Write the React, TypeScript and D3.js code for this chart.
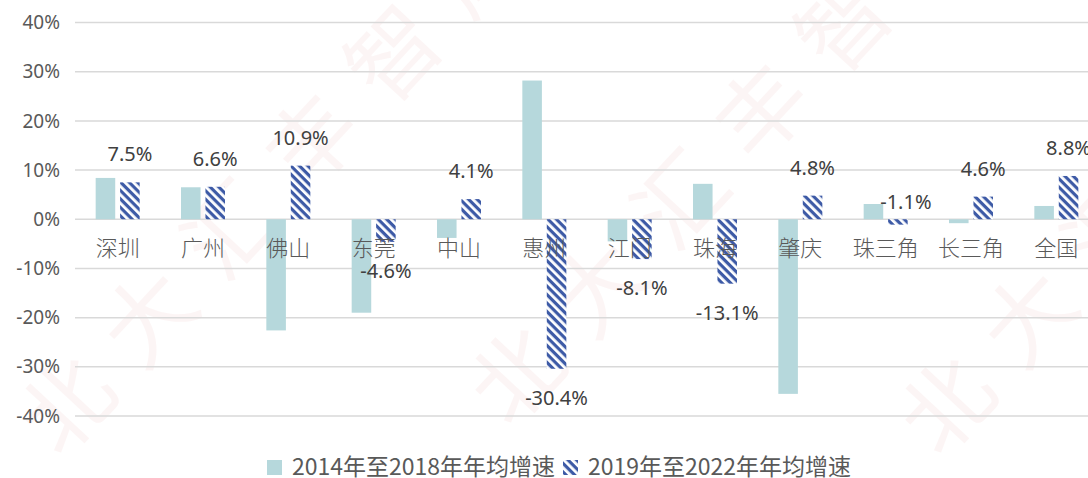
import React from 'react';
import * as d3 from 'd3';

// categories and the two series (annual growth, %)
const cities = ['深圳', '广州', '佛山', '东莞', '中山', '惠州', '江门', '珠海', '肇庆', '珠三角', '长三角', '全国'];
const growth1418 = [8.4, 6.5, -22.6, -19.0, -3.8, 28.2, -4.5, 7.2, -35.5, 3.1, -0.8, 2.7];
const growth1922 = [7.5, 6.6, 10.9, -4.6, 4.1, -30.4, -8.1, -13.1, 4.8, -1.1, 4.6, 8.8];
const seriesNames = ['2014年至2018年年均增速', '2019年至2022年年均增速'];
const yTicks = [-40, -30, -20, -10, 0, 10, 20, 30, 40];
const watermarkLines = ['北大汇丰智库', '北大汇丰智库', '北大汇丰智库'];

const W = 1088, H = 478;
const solidColor = '#b6d8dc';
const hatchColor = '#3d5aa6';
const textColor = '#595959';

export default function App() {
  const x = d3.scaleBand<string>().domain(cities).range([75, 1099]);
  const inner = d3.scaleBand<number>().domain([0, 1]).range([-22, 22]).paddingInner(0.2);
  const y = d3.scaleLinear().domain([-40, 40]).range([416, 22.5]);
  const fmtTick = (d: number) => d + '%';

  const cx = (c: string) => (x(c) as number) + x.bandwidth() / 2;
  const bw = inner.bandwidth();

  const bar = (v: number) => ({ y: y(Math.max(0, v)), h: Math.abs(y(v) - y(0)) });

  return (
    <svg width={W} height={H} style={{ position: 'absolute', left: 0, top: 0, background: '#fff' }}>
      <defs>
        <pattern id="hatch" width="6" height="6" patternUnits="userSpaceOnUse" patternTransform="rotate(45)">
          <rect width="6" height="6" fill="#fff" />
          <rect x="0" y="0" width="6" height="3.2" fill={hatchColor} />
        </pattern>
        <clipPath id="page"><rect width={W} height={H} /></clipPath>
      </defs>

      {/* watermark */}
      <g clipPath="url(#page)" fill="#f3c9c9" opacity={0.18} fontFamily="Noto Sans CJK SC" fontSize={90}>
        {watermarkLines.map((t, i) => (
          <text key={i} transform={`translate(${[60, 510, 940][i]},${[460, 430, 460][i]}) rotate(-47)`} letterSpacing={30}>
            {t}
          </text>
        ))}
      </g>

      {/* grid + y axis */}
      <g>
        {yTicks.map(t => (
          <g key={t}>
            <line x1={75} x2={W} y1={y(t)} y2={y(t)} stroke="#d9d9d9" strokeWidth={1.5} />
            <text x={60} y={y(t)} dy="0.35em" textAnchor="end" fill={textColor}
              fontFamily="Noto Sans" fontSize={19}>{fmtTick(t)}</text>
          </g>
        ))}
      </g>

      {/* bars */}
      <g>
        {cities.map((c, i) => {
          const b1 = bar(growth1418[i]);
          const b2 = bar(growth1922[i]);
          return (
            <g key={c}>
              <rect x={cx(c) + (inner(0) as number)} y={b1.y} width={bw} height={b1.h} fill={solidColor} />
              <rect x={cx(c) + (inner(1) as number)} y={b2.y} width={bw} height={b2.h} fill="url(#hatch)" />
            </g>
          );
        })}
      </g>

      {/* category labels */}
      <g>
        {cities.map(c => (
          <text key={c} x={cx(c)} y={248} dy="0.35em" textAnchor="middle" fill={textColor}
            fontFamily="Noto Sans CJK SC" fontWeight={300} fontSize={22}>{c}</text>
        ))}
      </g>

      {/* data labels for second series */}
      <g>
        {cities.map((c, i) => {
          const v = growth1922[i];
          const above = v > -2;
          const lx = cx(c) + (inner(1) as number) + bw / 2 + (v < 0 && above ? 8 : 0);
          const ly = above ? y(Math.max(v, 0)) - (v < 0 ? 17 : 28) : y(v) + 29;
          return (
            <text key={c} x={lx} y={ly} dy="0.35em" textAnchor="middle" fill="#404040"
              fontFamily="Noto Sans" fontSize={20}>{v.toFixed(1) + '%'}</text>
          );
        })}
      </g>

      {/* legend */}
      <g fontFamily="Noto Sans CJK SC" fontSize={23} fill={textColor}>
        <rect x={267} y={460} width={15} height={15} fill={solidColor} />
        <text x={292} y={467} dy="0.35em">{seriesNames[0]}</text>
        <rect x={563} y={460} width={15} height={15} fill="url(#hatch)" />
        <text x={588} y={467} dy="0.35em">{seriesNames[1]}</text>
      </g>
    </svg>
  );
}
